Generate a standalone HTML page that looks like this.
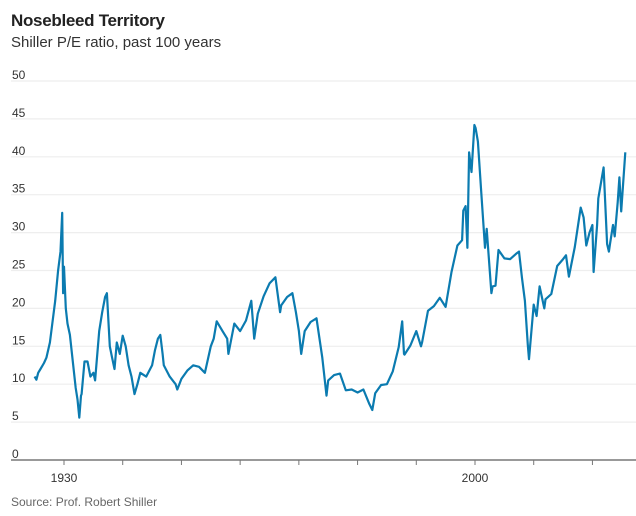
<!DOCTYPE html>
<html><head><meta charset="utf-8"><style>
body{margin:0;background:#fff;font-family:"Liberation Sans",sans-serif;}
#wrap{position:relative;width:636px;height:516px;overflow:hidden;}
.t{position:absolute;left:11px;white-space:nowrap;}
</style></head><body>
<div id="wrap">
<div class="t" style="top:11px;font-size:17px;font-weight:bold;color:#222;letter-spacing:-0.3px">Nosebleed Territory</div>
<div class="t" style="top:34px;font-size:15px;color:#333">Shiller P/E ratio, past 100 years</div>
<svg id="chart" width="636" height="516" style="position:absolute;left:0;top:0"></svg>
<div class="t" style="top:495px;font-size:12px;color:#666">Source: Prof. Robert Shiller</div>
</div>
<script>
const yTicks=[0,5,10,15,20,25,30,35,40,45,50];
const xLabels=[1930,2000];
const xTickYears=[1930,1940,1950,1960,1970,1980,1990,2000,2010,2020];
const years=[1925,1925.3,1925.6,1926,1926.6,1927,1927.6,1928,1928.5,1929,1929.4,1929.7,1929.85,1930,1930.3,1930.6,1931,1931.5,1932,1932.3,1932.6,1932.9,1933,1933.5,1934,1934.5,1935,1935.3,1936,1936.5,1937,1937.3,1937.8,1938.2,1938.6,1939,1939.5,1940,1940.5,1941,1941.5,1942,1942.5,1943,1944,1945,1945.5,1946,1946.4,1946.8,1947,1948,1949,1949.3,1950,1951,1952,1953,1954,1955,1955.5,1956,1957,1957.8,1958,1959,1960,1961,1961.9,1962.4,1963,1964,1965,1966,1966.8,1967,1968,1968.9,1969.5,1970,1970.4,1971,1972,1973,1974,1974.7,1975,1976,1977,1978,1979,1980,1981,1982,1982.5,1983,1984,1985,1986,1987,1987.6,1987.9,1988,1989,1990,1990.8,1991,1992,1993,1994,1995,1996,1997,1997.8,1998,1998.4,1998.7,1999,1999.4,1999.9,2000.1,2000.5,2001,2001.7,2002,2002.8,2003,2003.5,2004,2005,2006,2007,2007.5,2008,2008.5,2009,2009.2,2010,2010.5,2011,2011.8,2012,2013,2014,2015,2015.5,2016,2017,2018,2018.5,2018.95,2019.5,2020.0,2020.2,2020.8,2021,2021.9,2022.5,2022.8,2023,2023.5,2023.8,2024.3,2024.6,2024.9,2025.6];
const values=[11.0,10.6,11.5,12.0,12.8,13.5,15.5,18.0,21.0,25.0,27.5,32.6,22.0,25.5,20.0,18.0,16.5,13.0,9.5,8.0,5.6,8.5,8.7,13.0,13.0,11.0,11.5,10.5,17.0,19.5,21.5,22.0,15.0,13.5,12.0,15.5,14.0,16.4,15.0,12.5,11.0,8.7,10.0,11.5,11.0,12.5,14.5,16.0,16.5,14.0,12.5,11.0,10.0,9.3,10.7,11.8,12.5,12.3,11.5,15.0,16.0,18.3,17.0,16.0,14.0,18.0,17.0,18.4,21.0,16.0,19.3,21.6,23.3,24.1,19.5,20.4,21.5,22.0,19.5,17.0,14.0,17.0,18.2,18.7,13.5,8.5,10.5,11.2,11.4,9.2,9.3,8.9,9.3,7.4,6.6,8.8,9.9,10.0,11.7,14.9,18.3,14.0,13.9,15.1,17.0,15.0,15.6,19.7,20.3,21.4,20.2,24.8,28.3,29.0,32.9,33.5,28.0,40.6,38.0,44.2,43.8,42.0,36.0,28.0,30.5,22.0,22.9,23.0,27.7,26.6,26.5,27.2,27.5,24.0,21.0,15.2,13.3,20.5,19.0,22.9,20.0,21.2,21.9,25.6,26.5,27.0,24.2,28.1,33.3,32.0,28.3,30.0,31.0,24.8,31.0,34.5,38.6,28.5,27.5,28.5,31.0,29.5,34.0,37.3,32.8,40.6];
const NS="http://www.w3.org/2000/svg";
const svg=document.getElementById('chart');
const x=y=>64+(y-1930)*(411/70);
const yv=v=>460-v*7.58;
function mk(t,a){const e=document.createElementNS(NS,t);for(const k in a)e.setAttribute(k,a[k]);svg.appendChild(e);return e;}
yTicks.forEach(v=>{
  if(v>0){const g=mk('line',{x1:11,x2:636,y1:yv(v),y2:yv(v),stroke:'#eeeeee','stroke-width':1.2});
  
  }
  const t=mk('text',{x:12,y:yv(v)-2,'font-size':12,fill:'#333','font-family':'Liberation Sans, sans-serif'});
  t.textContent=v;
  
  
});
const ax=mk('line',{x1:11,x2:636,y1:460,y2:460,stroke:'#999','stroke-width':2});


xTickYears.forEach(yr=>{
  const tk=mk('line',{x1:x(yr),x2:x(yr),y1:460,y2:465,stroke:'#777','stroke-width':1});
  
  
});
xLabels.forEach(yr=>{
  const t=mk('text',{x:x(yr),y:482,'font-size':12,fill:'#333','text-anchor':'middle','font-family':'Liberation Sans, sans-serif'});
  t.textContent=yr;
  
  
});
const d=years.map((yr,i)=>(i?'L':'M')+x(yr).toFixed(1)+','+yv(values[i]).toFixed(1)).join('');
const p=mk('path',{d:d,fill:'none',stroke:'#0b7bb0','stroke-width':2.2,'stroke-linejoin':'round'});


</script>
</body></html>
